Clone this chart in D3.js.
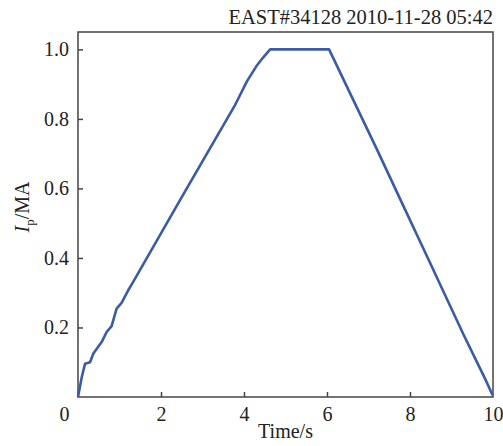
<!DOCTYPE html>
<html>
<head>
<meta charset="utf-8">
<script src="https://cdn.jsdelivr.net/npm/d3@7"></script>
<style>
  body { margin: 0; background: #fff; }
  text { font-family: "Liberation Serif", "Times New Roman", serif; fill: #222; }
</style>
</head>
<body>
<svg id="chart" width="503" height="446"></svg>
<script>
// plasma current trace
let time = [0, 0.09, 0.17, 0.29, 0.37, 0.57, 0.69, 0.81, 0.93, 1.05, 1.21, 1.33, 2.5, 3.78, 3.86, 4.07, 4.3, 4.45, 4.63,
            6.05, 7.2, 7.8, 8.44, 9.28, 9.82, 9.9, 9.99]
let ip = [0, 0.057, 0.096, 0.10, 0.125, 0.158, 0.187, 0.204, 0.254, 0.271, 0.307, 0.331, 0.575, 0.839, 0.858, 0.908, 0.952, 0.975, 1.0,
          1.0, 0.713, 0.56, 0.397, 0.182, 0.05, 0.029, 0.005]
let xTicks = [0, 2, 4, 6, 8, 10]
let yTicks = [0.2, 0.4, 0.6, 0.8, 1.0]
let title = 'EAST#34128 2010-11-28 05:42'

let svg = d3.select('#chart'),
    m = {l: 78, r: 10, t: 32, b: 49},
    w = +svg.attr('width') - m.l - m.r,
    h = +svg.attr('height') - m.t - m.b

let x = d3.scaleLinear().domain([0, 10]).range([0, w]),
    y = d3.scaleLinear().domain([0, 1.05]).range([h, 0])

let g = svg.append('g').attr('transform', `translate(${m.l},${m.t})`)

let xAxis = g.append('g')
    .attr('transform', `translate(0,${h})`)
    .call(d3.axisBottom(x).tickValues(xTicks).tickSizeInner(-5).tickSizeOuter(0).tickPadding(10)
        .tickFormat(d3.format('d')))
xAxis.selectAll('.tick line').filter(d => d == 0 || d == 10).remove()
xAxis.selectAll('.tick text').filter(d => d == 0).attr('dx', -14)

let yAxis = g.append('g')
    .call(d3.axisLeft(y).tickValues(yTicks).tickSizeInner(-5).tickSizeOuter(0).tickPadding(9)
        .tickFormat(d3.format('.1f')))

g.selectAll('.domain').remove()
g.selectAll('.tick line').attr('stroke', '#444').attr('stroke-width', 1.5)
g.selectAll('.tick text').style('font-size', '20px').attr('fill', '#222')

g.append('rect')
    .attr('width', w).attr('height', h)
    .attr('fill', 'none').attr('stroke', '#444').attr('stroke-width', 1.5)

let line = d3.line().x((d, i) => x(time[i])).y(d => y(d))
g.append('path')
    .datum(ip)
    .attr('d', line)
    .attr('fill', 'none')
    .attr('stroke', '#3a5ba6')
    .attr('stroke-width', 2.6)
    .attr('stroke-linejoin', 'round')

svg.append('text')
    .attr('x', m.l + w).attr('y', 24)
    .attr('text-anchor', 'end')
    .style('font-size', '20.5px')
    .text(title)

svg.append('text')
    .attr('x', m.l + x(5)).attr('y', 438)
    .attr('text-anchor', 'middle')
    .style('font-size', '20px')
    .text('Time/s')

let yl = svg.append('text')
    .attr('transform', 'translate(29,207) rotate(-90)')
    .attr('text-anchor', 'middle')
    .style('font-size', '20px')
yl.append('tspan').style('font-style', 'italic').text('I')
yl.append('tspan').attr('dy', 5).style('font-size', '13px').text('p')
yl.append('tspan').attr('dy', -5).text('/MA')
</script>
</body>
</html>
